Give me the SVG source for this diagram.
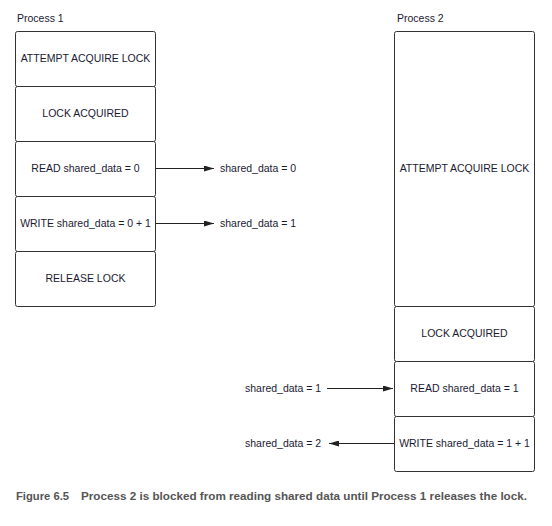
<svg xmlns="http://www.w3.org/2000/svg" width="552" height="526" viewBox="0 0 552 526">
<defs>
<style>
.box{fill:#fff;stroke:#333;stroke-width:1}
.t{font-family:"Liberation Sans",Arial,sans-serif;font-size:10.5px;fill:#1a1a33}
.c{text-anchor:middle}
.ln{stroke:#222;stroke-width:1;fill:none}
.cap{font-family:"Liberation Sans",Arial,sans-serif;font-size:11px;font-weight:bold;fill:#555}
</style>
<marker id="ah" viewBox="0 0 10 6" refX="10" refY="3" markerWidth="10" markerHeight="6" markerUnits="userSpaceOnUse" orient="auto">
<path d="M0,0 L10,3 L0,6 Z" fill="#222"/>
</marker>
</defs>
<rect width="552" height="526" fill="#fff"/>
<text class="t" x="17" y="22">Process 1</text>
<text class="t" x="397" y="22">Process 2</text>
<g id="p1-attempt"><rect class="box" x="15.5" y="31.5" width="140" height="55" rx="2"/><text class="t c" x="85.5" y="62">ATTEMPT ACQUIRE LOCK</text></g>
<g id="p1-acquired"><rect class="box" x="15.5" y="86.5" width="140" height="55" rx="2"/><text class="t c" x="85.5" y="117">LOCK ACQUIRED</text></g>
<g id="p1-read"><rect class="box" x="15.5" y="141.5" width="140" height="55" rx="2"/><text class="t c" x="85.5" y="172">READ shared_data = 0</text></g>
<g id="p1-write"><rect class="box" x="15.5" y="196.5" width="140" height="55" rx="2"/><text class="t c" x="85.5" y="227">WRITE shared_data = 0 + 1</text></g>
<g id="p1-release"><rect class="box" x="15.5" y="251.5" width="140" height="55" rx="2"/><text class="t c" x="85.5" y="282">RELEASE LOCK</text></g>
<g id="p2-attempt"><rect class="box" x="394.5" y="31.5" width="140" height="275" rx="2"/><text class="t c" x="464.5" y="172">ATTEMPT ACQUIRE LOCK</text></g>
<g id="p2-acquired"><rect class="box" x="394.5" y="306.5" width="140" height="55" rx="2"/><text class="t c" x="464.5" y="337">LOCK ACQUIRED</text></g>
<g id="p2-read"><rect class="box" x="394.5" y="361.5" width="140" height="55" rx="2"/><text class="t c" x="464.5" y="392">READ shared_data = 1</text></g>
<g id="p2-write"><rect class="box" x="394.5" y="416.5" width="140" height="55" rx="2"/><text class="t c" x="464.5" y="447">WRITE shared_data = 1 + 1</text></g>
<g id="v0"><text class="t" x="220" y="172">shared_data = 0</text></g>
<g id="v1"><text class="t" x="220" y="227">shared_data = 1</text></g>
<g id="v1b"><text class="t" x="245" y="392">shared_data = 1</text></g>
<g id="v2"><text class="t" x="245" y="447">shared_data = 2</text></g>
<g id="connectors">
<line class="ln" x1="156" y1="168.5" x2="214" y2="168.5" marker-end="url(#ah)"/>
<line class="ln" x1="156" y1="223.5" x2="214" y2="223.5" marker-end="url(#ah)"/>
<line class="ln" x1="327" y1="388.5" x2="393" y2="388.5" marker-end="url(#ah)"/>
<line class="ln" x1="394" y1="443.5" x2="329" y2="443.5" marker-end="url(#ah)"/>
</g>
<text class="cap" x="16" y="500" textLength="53" lengthAdjust="spacingAndGlyphs" fill="#666">Figure 6.5</text>
<text class="cap" x="81" y="500" textLength="446" lengthAdjust="spacingAndGlyphs">Process 2 is blocked from reading shared data until Process 1 releases the lock.</text>
</svg>
